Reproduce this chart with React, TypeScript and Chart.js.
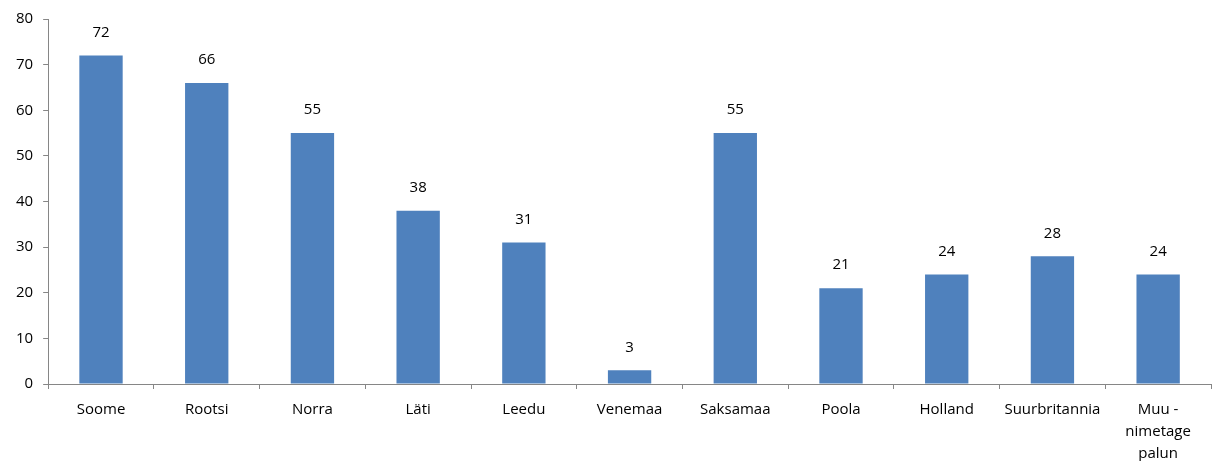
import React, { useEffect, useRef } from "react";
import { Chart, registerables } from "chart.js";

Chart.register(...registerables);

const categories: (string | string[])[] = [
  "Soome",
  "Rootsi",
  "Norra",
  "Läti",
  "Leedu",
  "Venemaa",
  "Saksamaa",
  "Poola",
  "Holland",
  "Suurbritannia",
  ["Muu -", "nimetage", "palun"],
];
const values: number[] = [72, 66, 55, 38, 31, 3, 55, 21, 24, 28, 24];
const yTicks = { min: 0, max: 80, step: 10 };

const FONT = "'Open Sans', 'Noto Sans', sans-serif";

const labelPlugin = {
  id: "barLabels",
  afterDatasetsDraw(chart: any) {
    const ctx = chart.ctx;
    const meta = chart.getDatasetMeta(0);
    ctx.save();
    ctx.font = `15px ${FONT}`;
    ctx.fillStyle = "#000000";
    ctx.textAlign = "center";
    ctx.textBaseline = "middle";
    meta.data.forEach((bar: any, i: number) => {
      ctx.fillText(String(values[i]), bar.x, bar.y - 23);
    });
    ctx.restore();
  },
};

export default function App() {
  const ref = useRef<HTMLCanvasElement | null>(null);
  useEffect(() => {
    document.body.style.margin = "0";
    if (!ref.current) return;
    const chart = new Chart(ref.current, {
      type: "bar",
      data: {
        labels: categories as any,
        datasets: [
          {
            data: values,
            backgroundColor: "#4F81BD",
            borderWidth: 0,
            barPercentage: 0.41,
            categoryPercentage: 1,
          },
        ],
      },
      options: {
        animation: false,
        responsive: false,
        maintainAspectRatio: false,
        layout: { padding: { top: 10, right: 3, left: 6, bottom: 0 } },
        plugins: {
          legend: { display: false },
          tooltip: { enabled: false },
        },
        scales: {
          x: {
            afterFit: (scale: any) => {
              scale.height = 77;
            },
            grid: {
              offset: true,
              drawOnChartArea: false,
              drawTicks: true,
              tickLength: 5,
              color: "#868686",
            },
            border: { color: "#868686", width: 1 },
            ticks: {
              color: "#000000",
              font: { family: FONT, size: 15, lineHeight: "22px" },
              padding: 10,
              maxRotation: 0,
              autoSkip: false,
            },
          },
          y: {
            min: yTicks.min,
            max: yTicks.max,
            grid: {
              drawOnChartArea: false,
              drawTicks: true,
              tickLength: 5,
              color: "#868686",
            },
            border: { color: "#868686", width: 1 },
            ticks: {
              stepSize: yTicks.step,
              color: "#000000",
              font: { family: FONT, size: 15 },
              padding: 10,
            },
          },
        },
      },
      plugins: [labelPlugin],
    });
    return () => chart.destroy();
  }, []);
  return (
    <div style={{ width: 1214, height: 461 }}>
      <canvas ref={ref} width={1214} height={461} style={{ width: 1214, height: 461 }} />
    </div>
  );
}
